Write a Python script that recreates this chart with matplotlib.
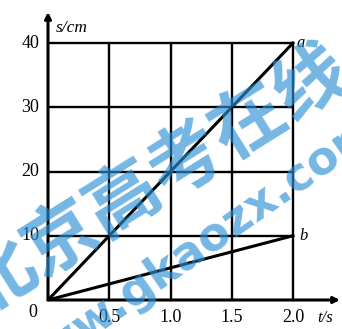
import matplotlib
matplotlib.use("Agg")
import matplotlib.pyplot as plt

# data
t_ticks = [0.5, 1.0, 1.5, 2.0]
t_labels = ["0.5", "1.0", "1.5", "2.0"]
s_ticks = [10, 20, 30, 40]
s_labels = ["10", "20", "30", "40"]
t_end = [0.0, 2.0]
s_a = [0.0, 40.0]
s_b = [0.0, 10.0]

W, H = 342, 329
fig = plt.figure(figsize=(W / 100, H / 100), dpi=100)

# origin at (48, 300) px, t=2.0 at 293 px, s=40 at 43 px
x0, y0 = 48, 300
px_t = (293 - x0) / 2.0
px_s = (y0 - 43) / 40.0
xmax = (340 - x0) / px_t
ymax = (y0 - 12) / px_s
ax = fig.add_axes([x0 / W, (H - y0) / H, (340 - x0) / W, (y0 - 12) / H])
ax.set_xlim(0, xmax)
ax.set_ylim(0, ymax)
ax.axis("off")

serif = ["Liberation Serif", "DejaVu Serif"]

# grid
for s in s_ticks:
    ax.plot([0, 2.0], [s, s], color="black", lw=1.7, solid_capstyle="butt")
for t in t_ticks:
    ax.plot([t, t], [0, 40], color="black", lw=1.7, solid_capstyle="butt")

# axes with arrows
ax.annotate("", xy=(xmax, 0), xytext=(0, 0),
            arrowprops=dict(arrowstyle="-|>", color="black", lw=2.2,
                            mutation_scale=9, shrinkA=0, shrinkB=0))
ax.annotate("", xy=(0, ymax), xytext=(0, 0),
            arrowprops=dict(arrowstyle="-|>", color="black", lw=2.2,
                            mutation_scale=9, shrinkA=0, shrinkB=0))

# lines a and b
ax.plot(t_end, s_a, color="black", lw=2.2)
ax.plot(t_end, s_b, color="black", lw=2.2)
ax.text(2.03, s_a[1], "a", style="italic", family=serif, fontsize=12, va="center")
ax.text(2.05, s_b[1], "b", style="italic", family=serif, fontsize=12, va="center")

# tick labels
for t, lab in zip(t_ticks, t_labels):
    ax.text(t, -2.8, lab, family=serif, fontsize=13, ha="center", va="center")
for s, lab in zip(s_ticks, s_labels):
    ax.text(-0.07, s, lab, family=serif, fontsize=13, ha="right", va="center")
ax.text(-0.12, -1.9, "0", family=serif, fontsize=13, ha="center", va="center")
ax.text(2.2, -2.8, "t/s", style="italic", family=serif, fontsize=12, ha="left", va="center")
ax.text(0.06, 42.4, "s/cm", style="italic", family=serif, fontsize=12.5, ha="left", va="center")

for a in ax.texts:
    a.set_clip_on(False)

# watermark
fig.text(0.455, 0.45, "北京高考在线", fontsize=53, fontweight="bold",
         family=["Noto Sans CJK SC", "DejaVu Sans"], color="#2a8fd6", alpha=0.65,
         rotation=32, ha="center", va="center", rotation_mode="anchor")
fig.text(0.56, 0.235, "www.gkaozx.com", fontsize=33, fontweight="bold",
         family=["DejaVu Sans"], color="#2a8fd6", alpha=0.65,
         rotation=35, ha="center", va="center", rotation_mode="anchor")

fig.savefig("out.png", dpi=100, facecolor="white")
